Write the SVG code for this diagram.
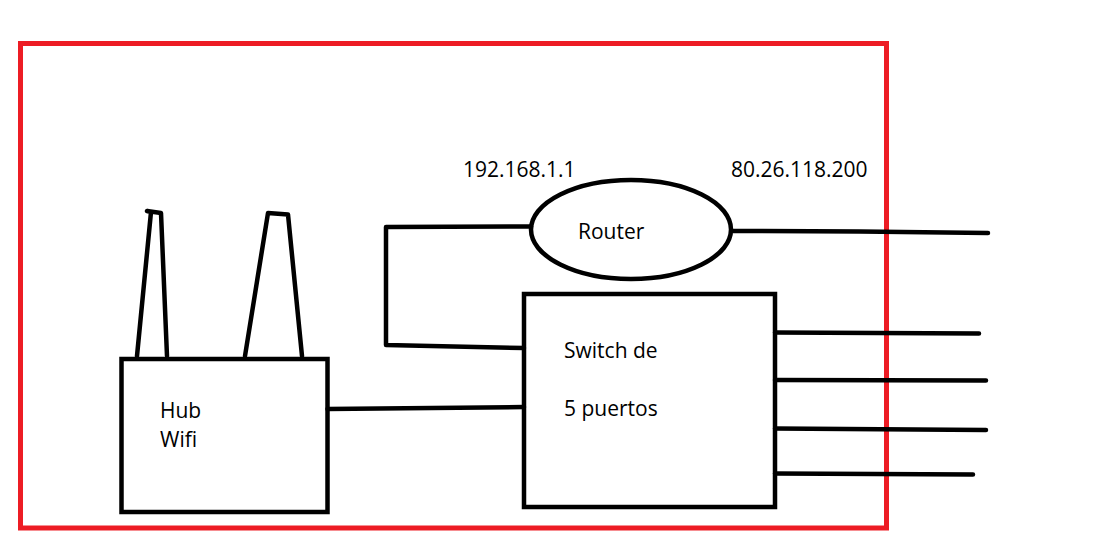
<svg xmlns="http://www.w3.org/2000/svg" width="1097" height="544" viewBox="0 0 1097 544">
<style>
.k{fill:none;stroke:#000;stroke-width:4.5;stroke-linecap:round;stroke-linejoin:round}
.b{fill:none;stroke:#000;stroke-width:4.5;stroke-linejoin:miter}
.t{font-family:"Open Sans","Liberation Sans",sans-serif;font-size:21px;fill:#000}
</style>
<rect width="1097" height="544" fill="#fff"/>
<rect id="frame" x="20.5" y="43.5" width="866" height="484.5" fill="none" stroke="#ED1C24" stroke-width="5"/>
<g id="connectors">
<polyline class="k" points="531,226.5 386,227 386,345 524,348"/>
<polyline class="k" points="327.5,409 524,407"/>
<polyline class="k" points="733,231 860,231.5 988,233"/>
<line class="k" x1="775" y1="332.5" x2="979" y2="333.5"/>
<line class="k" x1="775" y1="380" x2="986" y2="380.5"/>
<line class="k" x1="775" y1="428.5" x2="986" y2="430"/>
<line class="k" x1="775" y1="473.5" x2="973" y2="474.5"/>
</g>
<g id="hub">
<polyline class="k" points="137,356 151,212 147,211 161,213 167,356"/>
<polyline class="k" points="245,356 268,213 288,214.5 302,356"/>
<rect class="b" x="121.5" y="359" width="206" height="153"/>
<text class="t" x="160" y="418">Hub</text>
<text class="t" x="160" y="447">Wifi</text>
</g>
<g id="router">
<ellipse class="b" cx="631" cy="229.5" rx="100" ry="49.5"/>
<text class="t" x="578" y="239">Router</text>
<text class="t" x="463" y="177">192.168.1.1</text>
<text class="t" x="731" y="177">80.26.118.200</text>
</g>
<g id="switch">
<rect class="b" x="524" y="294" width="251" height="213"/>
<text class="t" x="564" y="358">Switch de</text>
<text class="t" x="564" y="416">5 puertos</text>
</g>
</svg>
